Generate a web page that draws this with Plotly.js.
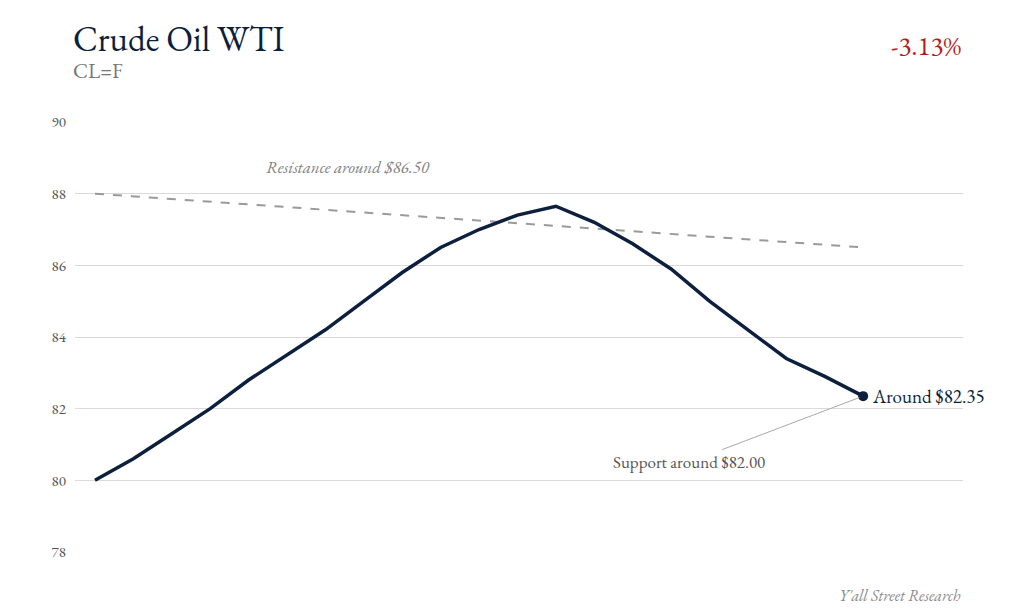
<!DOCTYPE html>
<html>
<head>
<meta charset="utf-8">
<script src="https://cdn.plot.ly/plotly-3.0.1.min.js"></script>
<style>
html,body{margin:0;padding:0;background:#fff;}
#chart{width:1024px;height:614px;}
</style>
</head>
<body>
<div id="chart"></div>
<script>
const periods = [0,1,2,3,4,5,6,7,8,9,10,11,12,13,14,15,16,17,18,19,20];
const prices = [80.0,80.6,81.3,82.0,82.8,83.5,84.2,85.0,85.8,86.5,87.0,87.4,87.65,87.2,86.6,85.9,85.0,84.2,83.4,82.9,82.35];
const resistanceX = [0,20];
const resistanceY = [88.0,86.5];
const yTicks = [78,80,82,84,86,88,90];
const lastPrice = 82.35;
const supportLevel = 82.00;
const changePct = "-3.13%";
const titleText = "Crude Oil WTI";
const tickerText = "CL=F";

const FONT = "'EB Garamond','Liberation Serif','DejaVu Serif',serif";
const NAVY = "#0c1f3d";

const traces = [
  {
    x: resistanceX, y: resistanceY, mode: 'lines', type: 'scatter',
    line: {color: '#9a9a9a', width: 2, dash: 'dash'}, hoverinfo: 'skip'
  },
  {
    x: periods, y: prices, mode: 'lines', type: 'scatter',
    line: {color: NAVY, width: 3.5}, hoverinfo: 'skip'
  },
  {
    x: [periods[periods.length-1]], y: [lastPrice], mode: 'markers', type: 'scatter',
    marker: {color: NAVY, size: 10}, hoverinfo: 'skip'
  }
];

const layout = {
  width: 1024, height: 614,
  paper_bgcolor: '#fff', plot_bgcolor: '#fff',
  showlegend: false,
  margin: {l: 75, r: 61, t: 122, b: 62},
  font: {family: FONT, color: '#555'},
  xaxis: {
    range: [-0.52, 22.6], showgrid: false, zeroline: false,
    showticklabels: false, ticks: '', showline: false
  },
  yaxis: {
    range: [78, 90], tickvals: yTicks, ticktext: yTicks.map(String),
    showgrid: true, gridcolor: '#dadada', gridwidth: 1, zeroline: false,
    showline: false, ticks: '', ticklabelstandoff: 8,
    tickfont: {family: FONT, size: 15, color: '#555'}
  },
  annotations: [
    {xref: 'paper', yref: 'paper', x: -0.004, y: 1.0, yshift: 36, xanchor: 'left', yanchor: 'bottom',
     align: 'left',
     text: '<span style="font-size:35px;color:' + NAVY + '">' + titleText + '</span><br>' + tickerText,
     showarrow: false, font: {family: FONT, size: 21, color: '#777'}},
    {xref: 'paper', yref: 'paper', x: 1.0, y: 1.177, xanchor: 'right', yanchor: 'middle',
     text: changePct, showarrow: false, font: {family: FONT, size: 27, color: '#b71c1c'}},
    {xref: 'x', yref: 'y', x: 6.6, y: 88.75, xanchor: 'center', yanchor: 'middle',
     text: '<i>Resistance around $' + resistanceY[1].toFixed(2) + '</i>', showarrow: false,
     font: {family: FONT, size: 17, color: '#808080'}},
    {xref: 'x', yref: 'y', x: periods[periods.length-1], y: lastPrice, xanchor: 'left', yanchor: 'middle',
     xshift: 7, text: 'Around $' + lastPrice.toFixed(2), showarrow: false,
     font: {family: FONT, size: 19, color: NAVY}},
    {xref: 'x', yref: 'y', x: periods[periods.length-1], y: lastPrice,
     text: 'Support around $' + supportLevel.toFixed(2), showarrow: true, arrowhead: 0,
     arrowwidth: 1, arrowcolor: '#aaaaaa', ax: -174, ay: 66, standoff: 4,
     font: {family: FONT, size: 17, color: '#555'}},
    {xref: 'paper', yref: 'paper', x: 1.0, y: -0.1, xanchor: 'right', yanchor: 'middle',
     text: "<i>Y'all Street Research</i>", showarrow: false,
     font: {family: FONT, size: 16, color: '#8a8a8a'}}
  ]
};

Plotly.newPlot('chart', traces, layout, {displayModeBar: false, staticPlot: true});
</script>
</body>
</html>
